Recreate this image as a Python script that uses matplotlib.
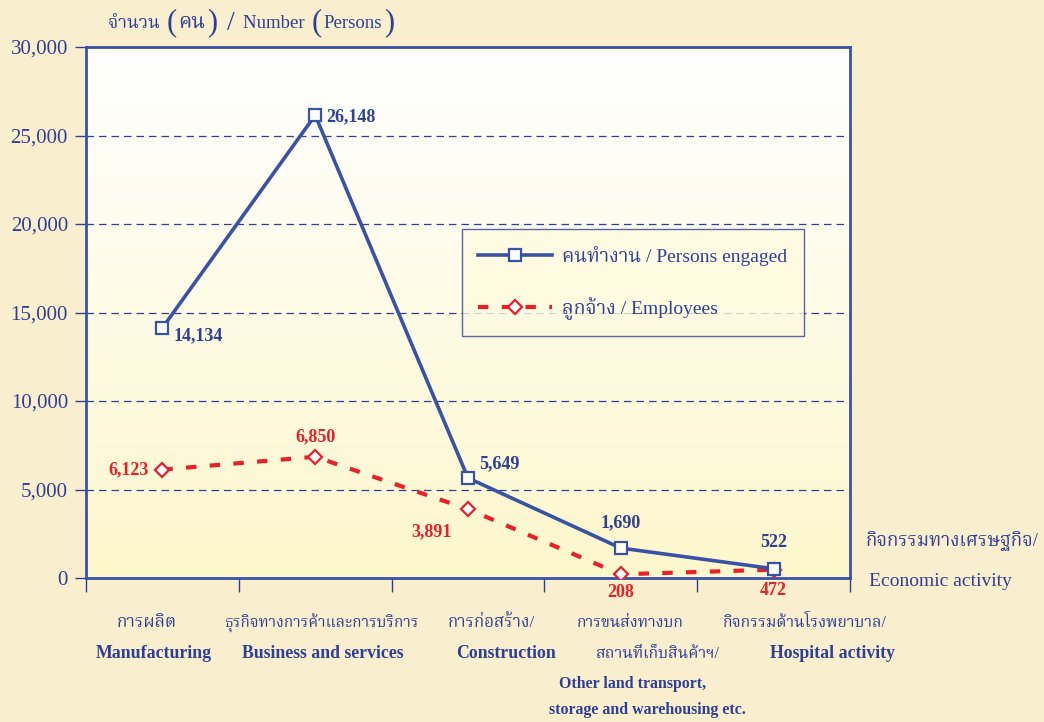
import numpy as np
import matplotlib
matplotlib.use("Agg")
import matplotlib.pyplot as plt
from matplotlib import font_manager
from matplotlib.ft2font import FT2Font

# ข้อมูล
cats_th = ["การผลิต", "ธุรกิจทางการค้าและการบริการ", "การก่อสร้าง/",
           "การขนส่งทางบก\nสถานที่เก็บสินค้าฯ/", "กิจกรรมด้านโรงพยาบาล/"]
cats_en = ["Manufacturing", "Business and services", "Construction",
           "Other land transport,\nstorage and warehousing etc.", "Hospital activity"]
persons = [14134, 26148, 5649, 1690, 522]
employees = [6123, 6850, 3891, 208, 472]
yticks = [0, 5000, 10000, 15000, 20000, 25000, 30000]

# ตำแหน่ง/ความกว้างของป้ายหมวดในภาพต้นฉบับ (px)
th_widths = [[60], [195], [87], [107, 124], [164]]
th_cx = [[147], [322], [491], [630, 658], [805]]
en_cx = [[154], [323], [506], [633, 647], [833]]

# หา font ที่มีอักษรไทย (เลือกแบบมีเชิงก่อน)
thai_fonts = []
for f in font_manager.fontManager.ttflist:
    try:
        if 0x0E01 in FT2Font(f.fname).get_charmap():
            thai_fonts.append(f.name)
    except Exception:
        pass
thai = None
for pref in ["Laksaman", "Norasi", "Kinnari", "Noto Serif Thai", "Serif"]:
    for n in thai_fonts:
        if pref in n:
            thai = n
            break
    if thai:
        break
if thai is None and thai_fonts:
    thai = thai_fonts[0]
fam = ["Liberation Serif"] + ([thai] if thai else []) + ["DejaVu Sans"]
plt.rcParams["font.family"] = fam

navy = "#2f3f95"
blue = "#3a52a6"
red = "#e8202a"
bg = "#f9eecd"

fig = plt.figure(figsize=(10.44, 7.22), dpi=100, facecolor=bg)
ax = fig.add_axes([86 / 1044, 1 - 578 / 722, 764 / 1044, 531 / 722])

# พื้นหลังไล่สี
grad = np.linspace(0, 1, 256).reshape(-1, 1)
cmap = matplotlib.colors.LinearSegmentedColormap.from_list("g", ["#fdf7cc", "#ffffff"])
ax.imshow(grad, aspect="auto", cmap=cmap, origin="lower",
          extent=[0, 1, 0, 1], transform=ax.transAxes, zorder=0)

x = np.arange(len(persons))
ax.plot(x, persons, color=blue, lw=2.6, marker="s", ms=9, mfc="white",
        mec=blue, mew=1.6, zorder=4, label="คนทำงาน / Persons engaged")
ax.plot(x, employees, color=red, lw=3, ls=(0, (2.5, 3.2)), marker="D", ms=7.5,
        mfc="white", mec=red, mew=1.6, zorder=3, label="ลูกจ้าง / Employees")

ax.set_xlim(-0.5, len(persons) - 0.5)
ax.set_ylim(0, 30000)
ax.set_yticks(yticks)
ax.set_yticklabels([f"{v:,}" for v in yticks], color=navy, fontsize=15)
ax.set_xticks(np.arange(len(persons) + 1) - 0.5)
ax.set_xticklabels([])
ax.tick_params(axis="y", length=8, width=1, color=navy, pad=5)
ax.tick_params(axis="x", length=10, width=1, color=navy)
for s in ax.spines.values():
    s.set_color(blue)
    s.set_linewidth(2)
for v in yticks[1:-1]:
    ax.axhline(v, color=navy, lw=0.9, ls=(0, (6, 4)), zorder=1)

# ป้ายค่า
bold = dict(fontsize=13, fontweight="bold")
offs_p = [(8, -6, "left"), (8, -1, "left"), (8, 4, "left"), (0, 12, "center"), (0, 13, "center")]
for xi, v, (dx, dy, ha) in zip(x, persons, offs_p):
    ax.annotate(f"{v:,}", (xi, v), xytext=(dx, dy), textcoords="offset points",
                ha=ha, va="bottom" if dy > 0 else "center", color=navy, **bold)
offs_e = [(-10, 0, "right", "center"), (0, 8, "center", "bottom"),
          (-12, -10, "right", "top"), (0, -7, "center", "top"), (0, -9, "center", "top")]
for xi, v, (dx, dy, ha, va) in zip(x, employees, offs_e):
    ax.annotate(f"{v:,}", (xi, v), xytext=(dx, dy), textcoords="offset points",
                ha=ha, va=va, color=red, **bold)

fig.canvas.draw()
r = fig.canvas.get_renderer()


def fit(t, w):
    bb = t.get_window_extent(r)
    t.set_fontsize(t.get_fontsize() * w / bb.width)


# ป้ายหมวด
ys = [623, 654, 684, 710]
for th, en, ws, tcx, ecx in zip(cats_th, cats_en, th_widths, th_cx, en_cx):
    th_lines = th.split("\n")
    en_lines = en.split("\n")
    i = 0
    for ln, w, cx in zip(th_lines, ws, tcx):
        t = fig.text(cx / 1044, 1 - ys[i] / 722, ln, ha="center", va="center",
                     color=navy, fontsize=13)
        fit(t, w)
        i += 1
    for ln, cx in zip(en_lines, ecx):
        fs = 12.8 if len(en_lines) == 1 else 11.4
        fig.text(cx / 1044, 1 - ys[i] / 722, ln, ha="center", va="center",
                 color=navy, fontsize=fs, fontweight="bold")
        i += 1

# หัวแกน y (วงเล็บใหญ่)
pieces = [("จำนวน ", 14, 56), ("(", 22, None), ("คน", 14, 27), (")", 22, None),
          (" / ", 20, None), ("Number ", 13.5, None), ("(", 22, None),
          ("Persons", 13.5, None), (")", 22, None)]
ty = (1 - 23 / 722) * fig.bbox.height
xpos = 108
for txt, fs, w in pieces:
    t = fig.text(0, 0, txt, ha="left", va="center", color=navy, fontsize=fs,
                 transform=matplotlib.transforms.IdentityTransform())
    t.set_position((xpos, ty))
    if w:
        fit(t, w)
    xpos = t.get_window_extent(r).x1 + 2

t = fig.text(1038 / 1044, 1 - 541 / 722, "กิจกรรมทางเศรษฐกิจ/", ha="right",
             va="center", color=navy, fontsize=14)
fit(t, 173)
fig.text(940 / 1044, 1 - 582 / 722, "Economic activity", ha="center",
         va="center", color=navy, fontsize=14)

leg = ax.legend(loc="upper left", bbox_to_anchor=(0.492, 0.657), fontsize=14,
                frameon=True, fancybox=False, edgecolor=navy, facecolor="#fffbe0",
                handlelength=3.8, borderpad=0.85, labelspacing=1.6, labelcolor=navy,
                borderaxespad=0, handletextpad=0.5)
leg.get_frame().set_linewidth(1)

fig.savefig("out.png", dpi=100, facecolor=bg)
